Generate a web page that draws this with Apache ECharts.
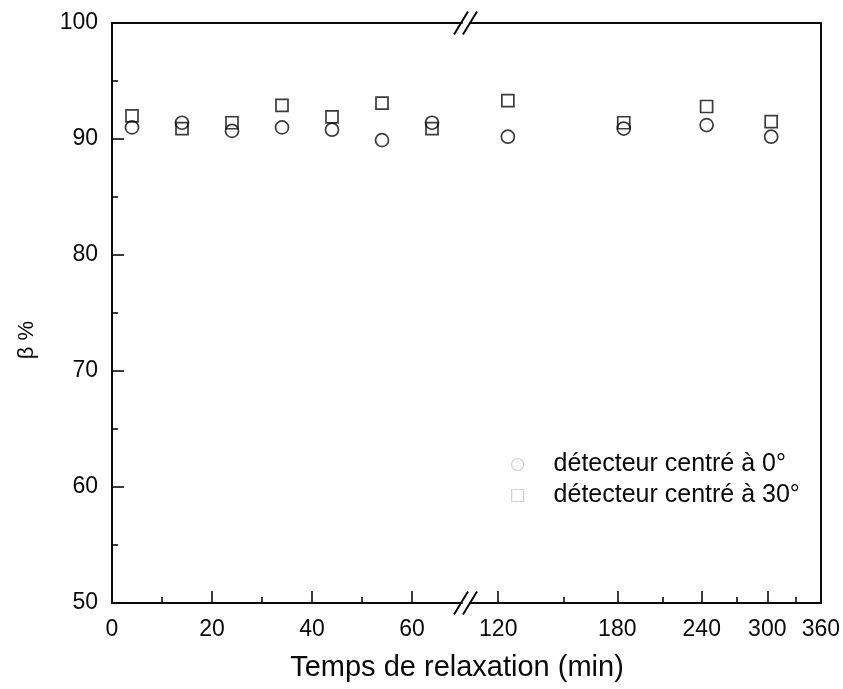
<!DOCTYPE html>
<html>
<head>
<meta charset="utf-8">
<script src="https://cdn.jsdelivr.net/npm/echarts@6/dist/echarts.min.js"></script>
<style>
  html, body { margin: 0; padding: 0; background: #fff; }
  #chart { width: 843px; height: 689px; }
</style>
</head>
<body>
<div id="chart"></div>
<script>
// Relaxation time (min) of each measurement
const times = [4, 14, 24, 34, 44, 54, 64, 124, 184, 244, 304];
// β (%) with the detector centred at 0° and at 30°
const beta0 = [91.0, 91.4, 90.7, 91.0, 90.8, 89.9, 91.4, 90.2, 90.9, 91.2, 90.2];
const beta30 = [92.0, 90.9, 91.4, 92.9, 91.9, 93.1, 90.9, 93.3, 91.4, 92.8, 91.5];
const seriesNames = ['détecteur centré à 0°', 'détecteur centré à 30°'];

// Broken time axis: a linear part, then a logarithmic part
const linRange = [0, 70];
const linMajorTicks = [0, 20, 40, 60];
const linMinorTicks = [10, 30, 50];
const logRange = [109, 360];
const logMajorTicks = [120, 180, 240, 300, 360];
const logMinorTicks = [150, 210, 270, 330];
const yRange = [50, 100];

const FONT = 'Liberation Sans';
const INK = '#0a0a0a';
const lg = Math.log10;

// Plot frame
const TOP = 23, HEIGHT = 580;
const LEFT_A = 112, WIDTH_A = 350;   // linear part
const LEFT_B = 470, WIDTH_B = 351;   // log part

function split(values) {
  const a = [], b = [];
  times.forEach((t, i) => {
    if (t <= linRange[1]) a.push([t, values[i]]);
    else b.push([lg(t), values[i]]);
  });
  return [a, b];
}
const [c0a, c0b] = split(beta0);
const [c30a, c30b] = split(beta30);

const lineStyle = { color: INK, width: 2 };
const xLabelStyle = { fontFamily: FONT, fontSize: 23, color: INK, margin: 15 };
const yLabelStyle = { fontFamily: FONT, fontSize: 23, color: INK, margin: 14 };

function mainX(grid, min, max, ticks, fmt) {
  return {
    type: 'value', gridIndex: grid, position: 'bottom', min, max,
    axisLine: { show: true, onZero: false, lineStyle },
    axisTick: { show: true, inside: true, length: 12, customValues: ticks, lineStyle: { color: INK, width: 1.6 } },
    axisLabel: Object.assign({ customValues: ticks, formatter: fmt }, xLabelStyle),
    splitLine: { show: false }
  };
}
function minorX(grid, min, max, ticks) {
  return {
    type: 'value', gridIndex: grid, position: 'bottom', min, max,
    axisLine: { show: false },
    axisTick: { show: true, inside: true, length: 6, customValues: ticks, lineStyle: { color: INK, width: 1.6 } },
    axisLabel: { show: false },
    splitLine: { show: false }
  };
}
function frameX(grid, min, max) {
  return {
    type: 'value', gridIndex: grid, position: 'top', min, max,
    axisLine: { show: true, onZero: false, lineStyle: { color: INK, width: 1.8 } },
    axisTick: { show: false }, axisLabel: { show: false }, splitLine: { show: false }
  };
}

const logMin = lg(logRange[0]), logMax = lg(logRange[1]);

function scatter(name, symbol, size, xi, yi, data) {
  return {
    type: 'scatter', name, symbol, symbolSize: size,
    xAxisIndex: xi, yAxisIndex: yi, data,
    itemStyle: { color: 'rgba(0,0,0,0)', borderColor: INK, borderWidth: 1.7 },
    emphasis: { disabled: true }, silent: true
  };
}

// Break marks "//" on the top and bottom edges
function slash(cx, cy) {
  return { type: 'line', shape: { x1: cx - 7, y1: cy + 11.5, x2: cx + 7, y2: cy - 11.5 },
           style: { stroke: INK, lineWidth: 2 }, silent: true };
}
const breakA = LEFT_A + WIDTH_A - 1, breakB = LEFT_B;

const chart = echarts.init(document.getElementById('chart'), null, { renderer: 'canvas' });
chart.setOption({
  animation: false,
  backgroundColor: '#fff',
  grid: [
    { left: LEFT_A, top: TOP, width: WIDTH_A, height: HEIGHT, containLabel: false },
    { left: LEFT_B, top: TOP, width: WIDTH_B, height: HEIGHT, containLabel: false }
  ],
  xAxis: [
    mainX(0, linRange[0], linRange[1], linMajorTicks, v => String(Math.round(v))),
    minorX(0, linRange[0], linRange[1], linMinorTicks),
    frameX(0, linRange[0], linRange[1]),
    mainX(1, logMin, logMax, logMajorTicks.map(lg), v => String(Math.round(Math.pow(10, v)))),
    minorX(1, logMin, logMax, logMinorTicks.map(lg)),
    frameX(1, logMin, logMax)
  ],
  yAxis: [
    {
      type: 'value', gridIndex: 0, position: 'left', min: yRange[0], max: yRange[1], interval: 10,
      axisLine: { show: true, onZero: false, lineStyle },
      axisTick: { show: true, inside: true, length: 12, lineStyle: { color: INK, width: 1.6 } },
      minorTick: { show: true, splitNumber: 2, length: 6, lineStyle: { color: INK, width: 1.6 } },
      axisLabel: yLabelStyle,
      splitLine: { show: false }, minorSplitLine: { show: false }
    },
    {
      type: 'value', gridIndex: 1, position: 'right', min: yRange[0], max: yRange[1], interval: 10,
      axisLine: { show: true, onZero: false, lineStyle },
      axisTick: { show: false }, axisLabel: { show: false }, splitLine: { show: false }
    }
  ],
  legend: {
    orient: 'vertical', left: 506, top: 447,
    itemWidth: 12, itemHeight: 12, itemGap: 6,
    selectedMode: false,
    data: [
      { name: seriesNames[0], icon: 'circle' },
      { name: seriesNames[1], icon: 'path://M0,0H10V10H0Z' }
    ],
    itemStyle: { color: 'rgba(0,0,0,0)', borderColor: '#c4c4c4', borderWidth: 1.2 },
    textStyle: { fontFamily: FONT, fontSize: 25, color: INK, padding: [0, 0, 0, 25] }
  },
  graphic: [
    slash(breakA, TOP + HEIGHT), slash(breakB, TOP + HEIGHT),
    slash(breakA, TOP), slash(breakB, TOP),
    { type: 'text', x: 457, y: 668,
      style: { text: 'Temps de relaxation (min)', font: '29px "' + FONT + '"', fill: INK,
               textAlign: 'center', textVerticalAlign: 'middle' } },
    { type: 'text', x: 27, y: 340, rotation: Math.PI / 2,
      style: { text: 'β %', font: '22px "' + FONT + '"', fill: INK,
               textAlign: 'center', textVerticalAlign: 'middle' } }
  ],
  series: [
    scatter(seriesNames[0], 'circle', 13, 0, 0, c0a),
    scatter(seriesNames[1], 'rect', 12, 0, 0, c30a),
    scatter(seriesNames[0], 'circle', 13, 3, 1, c0b),
    scatter(seriesNames[1], 'rect', 12, 3, 1, c30b)
  ]
});
</script>
</body>
</html>
